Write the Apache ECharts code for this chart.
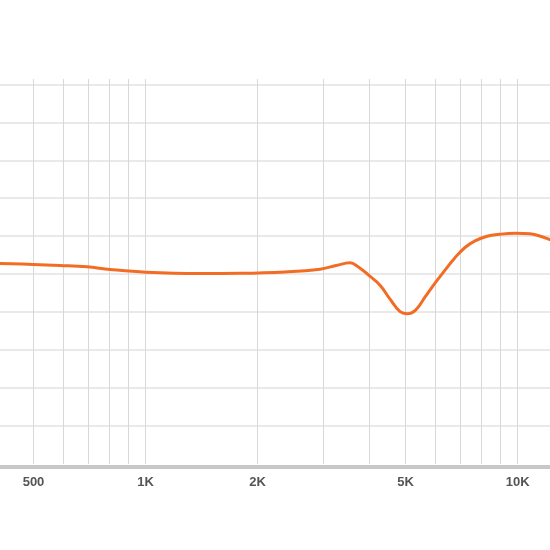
<!DOCTYPE html>
<html>
<head>
<meta charset="utf-8">
<script src="https://cdn.jsdelivr.net/npm/echarts@6/dist/echarts.min.js"></script>
<style>
html,body{margin:0;padding:0;background:#fff;}
#chart{width:550px;height:550px;}
</style>
</head>
<body>
<div id="chart"></div>
<script>
// Frequency (Hz) of each sampled point of the response curve
const freqs = [406, 498, 589, 696, 803, 1003, 1401, 1795, 2371, 2944, 3251, 3544, 3725, 3963, 4268, 4541, 4831, 5044, 5302, 5637, 5998, 6381, 6788, 7222, 7684, 8275, 8968, 9840, 10797, 11630, 12600];
// Level (dB) at each frequency
const levels = [76.41, 76.28, 76.14, 75.96, 75.62, 75.26, 75.09, 75.12, 75.30, 75.66, 76.14, 76.49, 75.99, 74.93, 73.55, 71.71, 70.07, 69.79, 70.20, 71.97, 73.82, 75.53, 77.17, 78.51, 79.38, 80.00, 80.26, 80.39, 80.32, 79.93, 79.28];
// Vertical grid lines (Hz)
const freqGrid = [500, 600, 700, 800, 900, 1000, 2000, 3000, 4000, 5000, 6000, 7000, 8000, 9000, 10000];
// Labelled frequencies and their tick labels
const labelFreqs = [500, 1000, 2000, 5000, 10000];
const labelTexts = ['500', '1K', '2K', '5K', '10K'];
// Horizontal grid lines (dB)
const levelGrid = [55, 60, 65, 70, 75, 80, 85, 90, 95, 100];

const data = freqs.map((f, i) => [f, levels[i]]);

const chart = echarts.init(document.getElementById('chart'), null, {renderer: 'canvas'});
chart.setOption({
  animation: false,
  backgroundColor: '#ffffff',
  grid: {left: 0, right: 0, top: 79, bottom: 86, containLabel: false},
  xAxis: {
    type: 'log',
    logBase: 10,
    min: 406.4,
    max: 12220,
    offset: 2.5,
    axisLine: {show: true, lineStyle: {color: '#c8c8c8', width: 4}},
    axisTick: {show: false, customValues: freqGrid},
    axisLabel: {
      show: true,
      customValues: labelFreqs,
      margin: 9,
      color: '#555555',
      fontFamily: '"Liberation Sans Narrow", "Liberation Sans", sans-serif',
      fontWeight: 'bold',
      fontSize: 13,
      formatter: function (v) {
        const idx = labelFreqs.findIndex(f => Math.abs(f - v) / f < 1e-6);
        return idx >= 0 ? labelTexts[idx] : '';
      }
    },
    splitLine: {show: true, lineStyle: {color: '#d8d8d8', width: 1}}
  },
  yAxis: {
    type: 'value',
    min: 50,
    max: 100.7,
    axisLine: {show: false},
    axisTick: {show: false, customValues: levelGrid},
    axisLabel: {show: false},
    splitLine: {show: true, lineStyle: {color: '#e2e2e2', width: 1.5}}
  },
  series: [{
    type: 'line',
    data: data,
    smooth: 0.4,
    showSymbol: false,
    symbol: 'none',
    clip: true,
    lineStyle: {color: '#f36c24', width: 3}
  }]
});
</script>
</body>
</html>
